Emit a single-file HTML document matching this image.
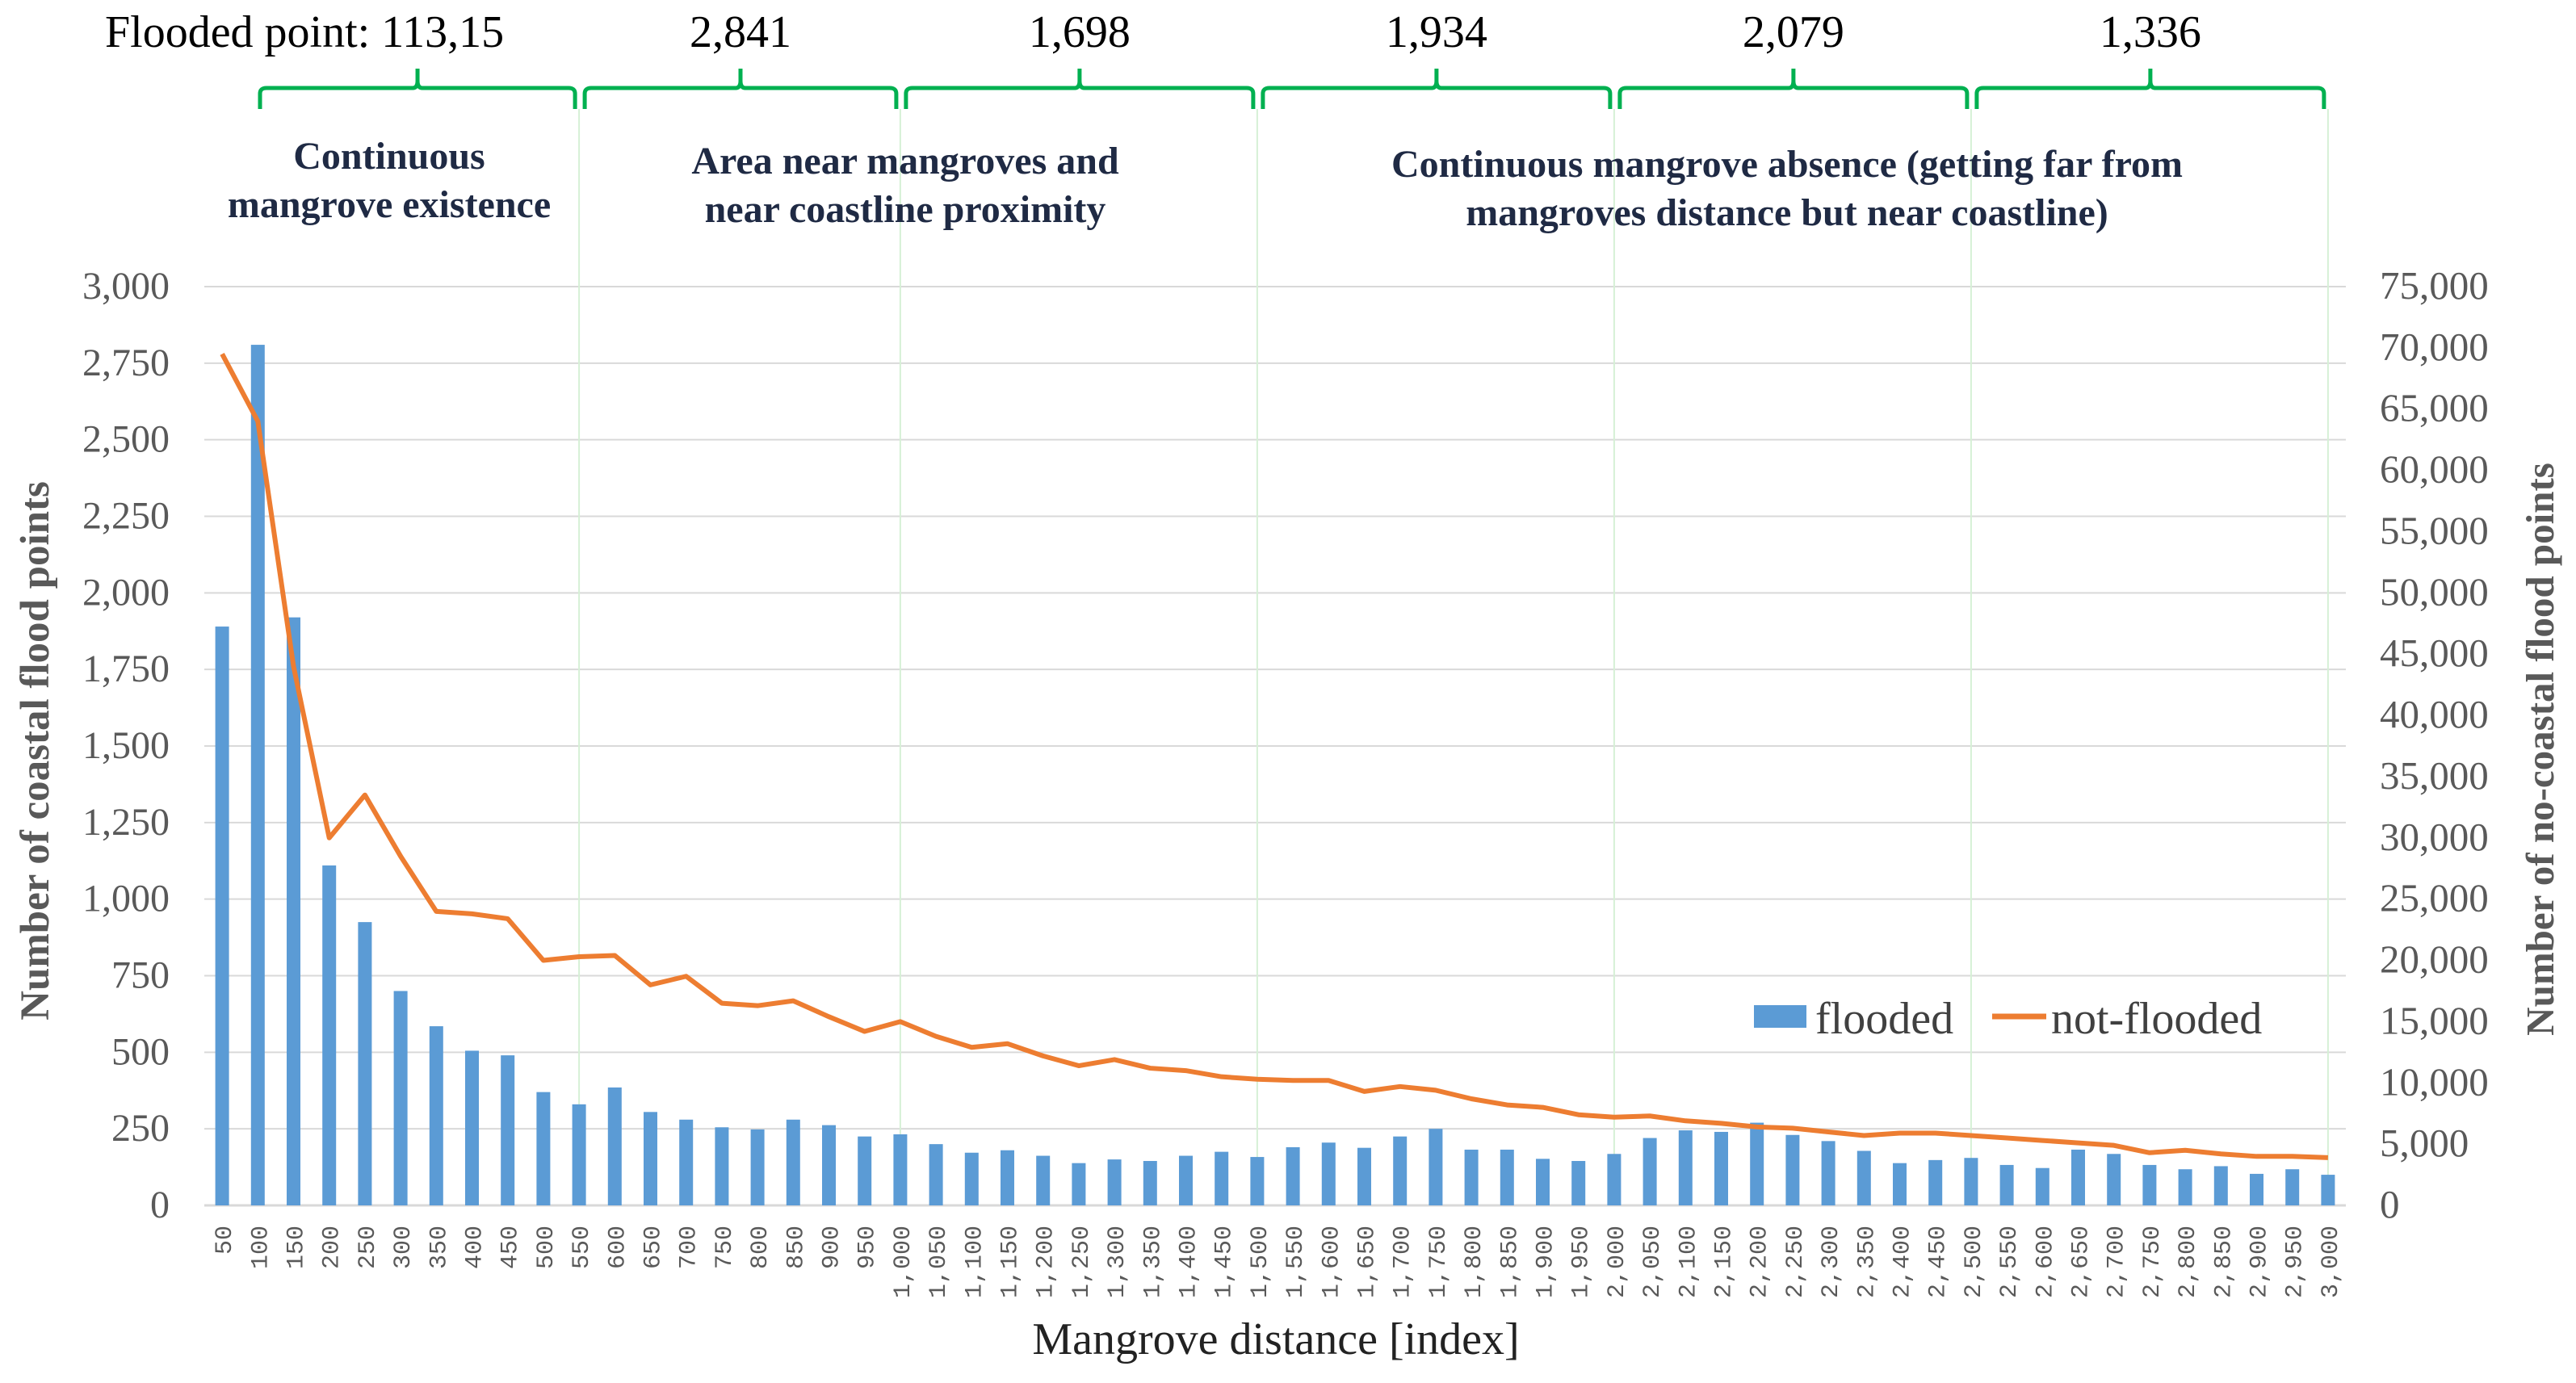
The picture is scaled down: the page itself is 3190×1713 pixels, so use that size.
<!DOCTYPE html>
<html><head><meta charset="utf-8"><style>
html,body{margin:0;padding:0;background:#fff;}
svg{display:block;}
</style></head><body>
<svg id="chart" width="3190" height="1713" xmlns="http://www.w3.org/2000/svg" font-family="'Liberation Serif', serif">
<g id="grid"></g>
<g id="seps"></g>
<g id="bars"></g>
<g id="line"></g>
<g id="yl"></g>
<g id="yr"></g>
<g id="xl"></g>
<g id="braces"></g>
<text transform="translate(60,930) rotate(-90)" text-anchor="middle" font-size="51" font-weight="bold" fill="#595959">Number of coastal flood points</text>
<text transform="translate(3162,928) rotate(-90)" text-anchor="middle" font-size="49" font-weight="bold" fill="#595959">Number of no-coastal flood points</text>
<text x="1580" y="1677" text-anchor="middle" font-size="56" fill="#222">Mangrove distance [index]</text>
<g font-size="48" font-weight="bold" fill="#1f2a44" text-anchor="middle">
<text x="482" y="209">Continuous</text>
<text x="482" y="269">mangrove existence</text>
<text x="1121" y="215">Area near mangroves and</text>
<text x="1121" y="275">near coastline proximity</text>
<text x="2213" y="219">Continuous mangrove absence (getting far from</text>
<text x="2213" y="279">mangroves distance but near coastline)</text>
</g>
<g>
<rect x="2172" y="1245" width="65" height="28" fill="#5b9bd5"/>
<text x="2248" y="1280" font-size="56" fill="#404040">flooded</text>
<line x1="2467" y1="1259" x2="2534" y2="1259" stroke="#ed7d31" stroke-width="7"/>
<text x="2540" y="1280" font-size="56" fill="#404040">not-flooded</text>
</g>
</svg>
<script>
const categories = [50,100,150,200,250,300,350,400,450,500,550,600,650,700,750,800,850,900,950,1000,1050,1100,1150,1200,1250,1300,1350,1400,1450,1500,1550,1600,1650,1700,1750,1800,1850,1900,1950,2000,2050,2100,2150,2200,2250,2300,2350,2400,2450,2500,2550,2600,2650,2700,2750,2800,2850,2900,2950,3000];
const flooded = [1890,2810,1920,1110,925,700,585,505,490,370,330,385,305,280,255,248,280,262,225,232,200,172,180,162,138,150,145,162,175,158,190,205,188,225,250,182,182,152,145,168,220,245,240,270,230,210,178,138,148,155,132,122,182,168,132,118,128,103,118,100];
const notFlooded = [69500,64000,44000,30000,33500,28500,24000,23800,23400,20000,20300,20400,18000,18700,16500,16300,16700,15400,14200,15000,13800,12900,13200,12200,11400,11900,11200,11000,10500,10300,10200,10200,9300,9700,9400,8700,8200,8000,7400,7200,7300,6900,6700,6400,6300,6000,5700,5900,5900,5700,5500,5300,5100,4900,4300,4500,4200,4000,4000,3900];
const leftTicks = [0,250,500,750,1000,1250,1500,1750,2000,2250,2500,2750,3000];
const rightTicks = [0,5000,10000,15000,20000,25000,30000,35000,40000,45000,50000,55000,60000,65000,70000,75000];
const sectionEnds = [550,1000,1500,2000,2500,3000];
const sectionLabels = ["Flooded point: 113,15","2,841","1,698","1,934","2,079","1,336"];

const NS="http://www.w3.org/2000/svg";
const L=253,R=2905,T=355,B=1493;
const band=(R-L)/categories.length;
const xc=i=>L+band*(i+0.5);
const yL=v=>B-(v/3000)*(B-T);
const yR=v=>B-(v/75000)*(B-T);
const fmt=v=>v.toLocaleString('en-US');
function mk(tag,attrs,parent){const e=document.createElementNS(NS,tag);for(const k in attrs)e.setAttribute(k,attrs[k]);parent.appendChild(e);return e;}

const grid=document.getElementById('grid');
leftTicks.forEach(v=>{
  const ln=mk('line',{x1:L,x2:R,y1:yL(v),y2:yL(v),stroke:'#d9d9d9','stroke-width':v===0?3:2},grid);
  
  
});
const yl=document.getElementById('yl');
leftTicks.forEach(v=>{
  const t=mk('text',{x:210,y:yL(v)+15,'text-anchor':'end','font-size':48,fill:'#595959'},yl);
  t.textContent=fmt(v);
  
  
});
const yr=document.getElementById('yr');
rightTicks.forEach(v=>{
  const t=mk('text',{x:2947,y:yR(v)+15,'font-size':49,fill:'#595959'},yr);
  t.textContent=fmt(v);
  
  
});
const seps=document.getElementById('seps');
sectionEnds.forEach(c=>{
  const i=categories.indexOf(c);
  const ln=mk('line',{x1:xc(i),x2:xc(i),y1:135,y2:B,stroke:'#d6f0d6','stroke-width':2},seps);
  
  
});
const bars=document.getElementById('bars');
flooded.forEach((v,i)=>{
  const r=mk('rect',{x:xc(i)-8.5,y:yL(v),width:17,height:B-yL(v),fill:'#5b9bd5'},bars);
  
  
});
const lg=document.getElementById('line');
const pl=mk('polyline',{points:notFlooded.map((v,i)=>xc(i)+','+yR(v)).join(' '),fill:'none',stroke:'#ed7d31','stroke-width':6,'stroke-linejoin':'round'},lg);


const xl=document.getElementById('xl');
categories.forEach((c,i)=>{
  const t=mk('text',{transform:`translate(${xc(i)+11},1518) rotate(-90)`,'text-anchor':'end','font-size':30,'font-family':"'Liberation Mono', monospace",fill:'#595959'},xl);
  t.textContent=fmt(c);
  
  
});
const br=document.getElementById('braces');
let prev=322;
sectionEnds.forEach((c,k)=>{
  const i=categories.indexOf(c);
  const x1=k===0?322:prev+7, x2=xc(i)-5;
  prev=xc(i);
  const m=(x1+x2)/2;
  const p=mk('path',{d:`M${x1},135 L${x1},116 Q${x1},109 ${x1+8},109 L${m-6},109 Q${m},109 ${m},100 L${m},85 M${m},100 Q${m},109 ${m+6},109 L${x2-8},109 Q${x2},109 ${x2},116 L${x2},135`,fill:'none',stroke:'#00b050','stroke-width':5},br);
  
  
  const t=mk('text',{x:k===0?130:m,y:58,'text-anchor':k===0?'start':'middle','font-size':56,fill:'#000'},br);
  t.textContent=sectionLabels[k];
  
  
});
</script>
</body></html>
